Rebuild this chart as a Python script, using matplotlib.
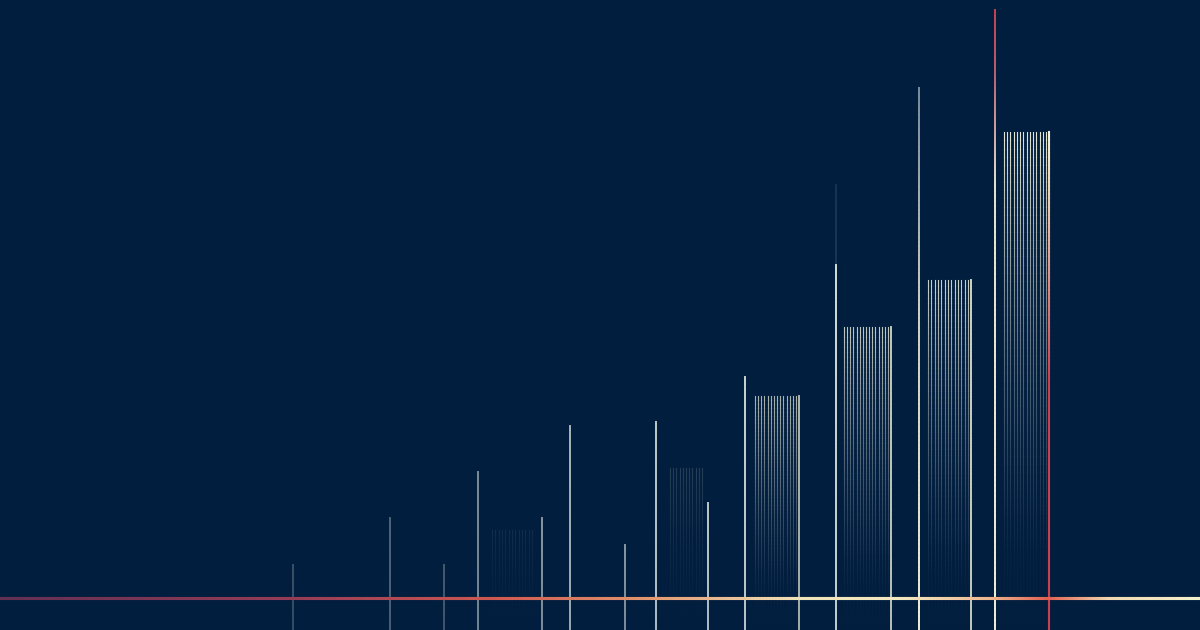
import numpy as np
import matplotlib
matplotlib.use("Agg")
import matplotlib.pyplot as plt
from matplotlib.collections import LineCollection
from matplotlib.colors import to_rgb

# ---- data (values measured up from the bottom edge) ----
baseline = 32
stem_x = [293, 390, 444, 478, 542, 570, 625, 656, 708, 745, 836, 919, 995]
stem_height = [65, 112, 65, 158, 112, 204, 85, 208, 127, 253, 365, 542, 620]
stem_strength = [0.25, 0.35, 0.3, 0.55, 0.6, 0.75, 0.6, 0.85, 0.85, 0.9, 0.95, 0.9, 1.0]
ghost_x = [836]
ghost_height = [445]

bar_left = [492, 670, 755, 844, 928, 1004]
bar_right = [535, 705, 799, 891, 971, 1049]
bar_height = [100, 162, 234, 303, 350, 498]
bar_strength = [0.07, 0.16, 0.75, 0.85, 0.9, 1.0]

BG = "#021e3f"
CREAM = "#eef0d8"
RED = "#c9404f"

fig = plt.figure(figsize=(12, 6.3), dpi=100, facecolor=BG)
ax = fig.add_axes([0, 0, 1, 1])
ax.set_facecolor(BG)
ax.set_xlim(0, 1200)
ax.set_ylim(0, 630)
ax.axis("off")

bg = np.array(to_rgb(BG))


def interp_colors(pos, stops):
    ps = np.array([s[0] for s in stops], float)
    cs = np.array([to_rgb(s[1]) for s in stops])
    als = np.array([s[2] for s in stops], float)
    rgb = np.zeros((len(pos), 3))
    for k in range(3):
        rgb[:, k] = np.interp(pos, ps, cs[:, k])
    a = np.interp(pos, ps, als)[:, None]
    out = rgb * a + bg * (1 - a)  # pre-blend with background -> opaque
    return np.hstack([out, np.ones((len(pos), 1))])


def grad_vline(x, y0, y1, stops, lw, n=120, z=3):
    ys = np.linspace(y0, y1, n + 1)
    segs = [[(x, ys[i]), (x, ys[i + 1])] for i in range(n)]
    mids = (ys[:-1] + ys[1:]) / 2
    cols = interp_colors(mids, stops)
    ax.add_collection(LineCollection(segs, colors=cols, linewidths=lw, zorder=z,
                                     capstyle="projecting"))


def grad_hline(y, x0, x1, stops, lw, n=400, z=4):
    xs = np.linspace(x0, x1, n + 1)
    segs = [[(xs[i], y), (xs[i + 1], y)] for i in range(n)]
    mids = (xs[:-1] + xs[1:]) / 2
    cols = interp_colors(mids, stops)
    ax.add_collection(LineCollection(segs, colors=cols, linewidths=lw, zorder=z,
                                     capstyle="projecting"))


# hatched bars fading downward
for l, r, h, s in zip(bar_left, bar_right, bar_height, bar_strength):
    nl = int(round((r - l) / 3.2))
    xs = np.linspace(l, r - 3, nl)
    for x in xs:
        grad_vline(x, 0, h, [(0, "#8fa3b5", 0.0), (h * 0.15, "#8fa3b5", 0.03 * s),
                             (h * 0.6, "#c8d0c8", 0.5 * s), (h * 0.9, "#e4e6d4", 0.85 * s),
                             (h, CREAM, 0.95 * s)],
                   lw=0.8, n=60, z=2)
    # right edge solid line
    if r == bar_right[-1]:
        grad_vline(r, 0, h, [(0, RED, 1.0), (h * 0.5, RED, 1.0), (h * 0.85, "#e8c8b0", 1.0),
                             (h, CREAM, 1.0)], lw=1.5)
    elif s > 0.5:
        grad_vline(r, 0, h, [(0, CREAM, 0.9 * s), (h, CREAM, 0.95 * s)], lw=1.4)

# ghost extension
for x, h in zip(ghost_x, ghost_height):
    grad_vline(x, 0, h, [(0, "#4a6a88", 0.5), (h, "#4a6a88", 0.3)], lw=1.3, z=2)

# stems
for x, h, s in zip(stem_x, stem_height, stem_strength):
    if x == stem_x[-1]:
        stops = [(0, CREAM, 1.0), (h * 0.72, "#e8e4d0", 1.0), (h * 0.9, "#b86070", 1.0),
                 (h, RED, 1.0)]
    elif x == stem_x[-2]:
        stops = [(0, CREAM, 1.0), (h * 0.6, "#d8dcc8", 0.95), (h, "#8a98a8", 0.9)]
    else:
        stops = [(0, "#c8d4d8", s), (h, "#dde4dc", s)]
    grad_vline(x, 0, h, stops, lw=1.4)

# horizontal baseline with gradient
grad_hline(baseline, 0, 1200,
           [(0, "#7a3458", 0.8), (300, "#a8405a", 0.9), (500, "#d05a50", 1.0),
            (650, "#e39870", 1.0), (800, "#f0e2b8", 1.0), (900, "#f3e8c0", 1.0),
            (990, "#eeb890", 1.0), (1049, "#e06050", 1.0), (1110, "#f0d8b0", 1.0),
            (1200, "#f4f2cc", 1.0)], lw=2.2)

fig.savefig("out.png", dpi=100, facecolor=BG)
